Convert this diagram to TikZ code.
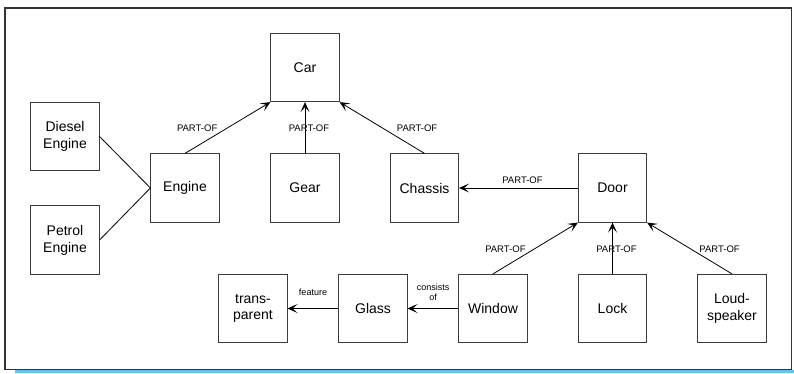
\documentclass[tikz,border=0pt]{standalone}
\usepackage{fontspec}
\setmainfont{Liberation Sans}
\usetikzlibrary{arrows.meta}
\definecolor{stripblue}{RGB}{90,200,238}
\definecolor{boxline}{RGB}{60,60,60}
\begin{document}
\begin{tikzpicture}[x=1pt,y=-1pt,
  box/.style={draw=boxline, line width=0.9pt, minimum width=68.3pt, minimum height=68.3pt,
    inner sep=0pt, align=center, font=\fontsize{14}{16.8}\selectfont},
  rel/.style={draw=black, line width=0.8pt, -{Stealth[length=10pt,width=9pt,inset=5pt]}},
  link/.style={draw=black, line width=0.8pt},
  lbl/.style={font=\fontsize{9.5}{11}\selectfont, inner sep=1pt},
  slbl/.style={font=\fontsize{9}{10}\selectfont, inner sep=1pt, align=center}]
  \useasboundingbox (0,0) rectangle (794,373);
  % outer frame and strip below it
  \fill[stripblue] (15,370.4) rectangle (794,373);
  \draw[black!80, line width=1.6pt] (5,8) rectangle (791.6,369.4);

  % concept boxes
  \node[box] (car)    at (305,67.5)  {Car};
  \node[box] (diesel) at (65,136.5)  {Diesel\\Engine};
  \node[box] (petrol) at (65,240)    {Petrol\\Engine};
  \node[box] (engine) at (185,188)   {Engine};
  \node[box] (gear)   at (305,188)   {Gear};
  \node[box] (chassis) at (424.5,188) {Chassis};
  \node[box] (door)   at (612.5,188) {Door};
  \node[box] (transp) at (253,308.5) {trans-\\parent};
  \node[box] (glass)  at (373,308.5) {Glass};
  \node[box] (window) at (493,308.5) {Window};
  \node[box] (lock)   at (612.5,308.5) {Lock};
  \node[box] (speaker) at (732,308.5) {Loud-\\speaker};

  % engine variants
  \draw[link] (diesel.east) -- (engine.west);
  \draw[link] (petrol.east) -- (engine.west);

  % parts of the car
  \draw[rel] (engine.north) -- node[lbl, anchor=east, xshift=-9pt] {PART-OF} (car.south west);
  \draw[rel] (gear.north) -- node[lbl, xshift=4pt] {PART-OF} (car.south);
  \draw[rel] (chassis.north) -- node[lbl, anchor=west, xshift=13.5pt] {PART-OF} (car.south east);
  \draw[rel] (door.west) -- node[lbl, yshift=8pt, xshift=4pt] {PART-OF} (chassis.east);

  % parts of the door
  \draw[rel] (window.north) -- node[lbl, anchor=east, xshift=-8.5pt, yshift=-1pt] {PART-OF} (door.south west);
  \draw[rel] (lock.north) -- node[lbl, xshift=4pt, yshift=-1pt] {PART-OF} (door.south);
  \draw[rel] (speaker.north) -- node[lbl, anchor=west, xshift=8.5pt, yshift=-1pt] {PART-OF} (door.south east);

  % window material and its feature
  \draw[rel] (window.west) -- node[slbl, yshift=16pt] {consists\\of} (glass.east);
  \draw[rel] (glass.west) -- node[slbl, yshift=16pt] {feature} (transp.east);
\end{tikzpicture}
\end{document}
